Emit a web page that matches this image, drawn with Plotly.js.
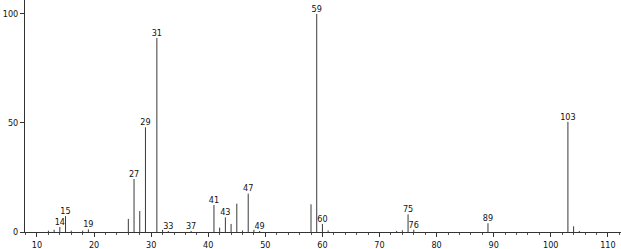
<!DOCTYPE html>
<html>
<head>
<meta charset="utf-8">
<script src="https://cdn.plot.ly/plotly-3.0.1.min.js"></script>
<style>html,body{margin:0;padding:0;background:#fff;}#chart{width:621px;height:249px;}</style>
</head>
<body>
<div id="chart"></div>
<script>
// m/z values of the peaks
const mz = [12, 13, 14, 15, 16, 18, 19, 26, 27, 28, 29, 31, 32, 33, 37, 41, 42, 43, 44, 45, 46, 47, 48, 49, 58, 59, 60, 61, 73, 74, 75, 76, 89, 103, 104, 105];
// relative intensities (%)
const intensity = [0.6, 1.0, 2.3, 7.3, 0.6, 0.6, 1.2, 6.0, 24.3, 9.6, 48.0, 89.0, 1.0, 0.5, 0.5, 12.4, 2.0, 6.7, 3.7, 13.0, 0.7, 17.6, 1.0, 0.5, 12.7, 100, 3.7, 0.7, 0.5, 0.8, 8.1, 1.0, 4.0, 50.5, 2.6, 0.5];
// peaks that carry a label
const labelled = [14, 15, 19, 27, 29, 31, 33, 37, 41, 43, 47, 49, 59, 60, 75, 76, 89, 103];
const xTicks = [10, 20, 30, 40, 50, 60, 70, 80, 90, 100, 110];
const yTicks = [0, 50, 100];

const lx = [], ly = [], lt = [];
labelled.forEach(m => {
  const i = mz.indexOf(m);
  lx.push(m); ly.push(intensity[i]); lt.push(String(m));
});

const font = {family: 'DejaVu Sans Condensed, DejaVu Sans, sans-serif', size: 9, color: '#111'};

const traces = [
  // stick spectrum: each peak is a 1px vertical line from 0 up to its intensity
  {type: 'scatter', mode: 'markers', x: mz, y: intensity,
   marker: {size: 1, color: '#444', opacity: 0},
   error_y: {type: 'data', symmetric: false, array: mz.map(() => 0), arrayminus: intensity,
             thickness: 1, width: 0, color: '#3a3a3a'},
   hoverinfo: 'x+y', cliponaxis: false},
  {type: 'scatter', mode: 'text', x: lx, y: ly, text: lt, textposition: 'top center', textfont: font, cliponaxis: false, hoverinfo: 'skip'}
];

const layout = {
  width: 621, height: 249,
  margin: {l: 25, r: 0, t: 0, b: 17, pad: 0},
  paper_bgcolor: '#fff', plot_bgcolor: '#fff',
  showlegend: false,
  font: font,
  xaxis: {
    range: [7.9, 112.3], tickvals: xTicks, ticktext: xTicks.map(String),
    ticks: 'outside', ticklen: 4, tickwidth: 1, tickcolor: '#333',
    showline: true, linecolor: '#333', linewidth: 1, showgrid: false, zeroline: false,
    minor: {dtick: 2, tick0: 0, ticks: 'outside', ticklen: 2, tickcolor: '#555', showgrid: false},
    tickfont: font, fixedrange: true
  },
  yaxis: {
    range: [0, 106.4], tickvals: yTicks, ticktext: yTicks.map(String),
    ticks: 'outside', ticklen: 4, tickwidth: 1, tickcolor: '#333',
    showline: true, linecolor: '#333', linewidth: 1, showgrid: false, zeroline: false,
    tickfont: font, fixedrange: true
  }
};

Plotly.newPlot('chart', traces, layout, {displayModeBar: false, staticPlot: true});
</script>
</body>
</html>
